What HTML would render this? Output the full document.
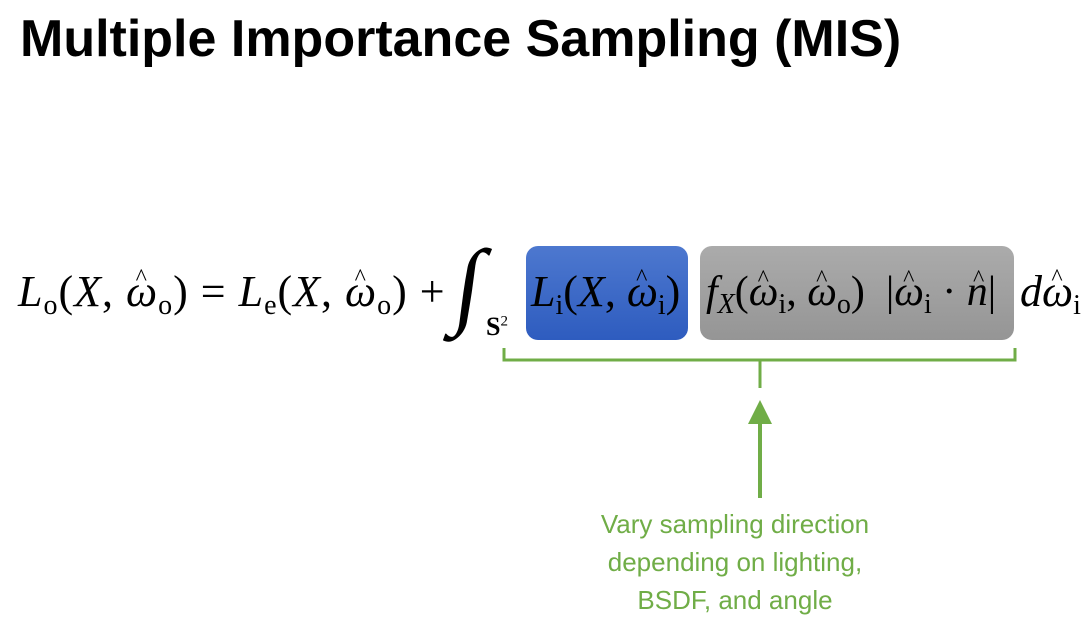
<!DOCTYPE html>
<html><head><meta charset="utf-8"><style>
body{margin:0;width:1081px;height:616px;background:#fff;position:relative;overflow:hidden;font-family:"Liberation Serif",serif}
.t{position:absolute;white-space:nowrap}
.m{font-size:44px;line-height:1;letter-spacing:1px}
i{font-style:italic}
sub{font-size:28px;vertical-align:-8px;font-style:normal}
.h{position:relative;display:inline-block;font-style:italic}
.h::after{content:"^";position:absolute;left:30%;top:-4px;font-style:normal;font-size:24px}
.box{position:absolute;border-radius:12px}
</style></head><body>
<div class="t" style="left:20px;top:9px;font-family:'Liberation Sans',sans-serif;font-weight:bold;font-size:52px;color:#000">Multiple Importance Sampling (MIS)</div>
<div class="box" style="left:526px;top:246px;width:162px;height:94px;background:linear-gradient(#4d78cf,#2e5cbf)"></div>
<div class="box" style="left:700px;top:246px;width:314px;height:94px;background:linear-gradient(#ababab,#959595)"></div>
<div class="t m" style="left:18px;top:270px"><i>L</i><sub>o</sub>(<i>X</i>, <span class="h">ω</span><sub>o</sub>) = <i>L</i><sub>e</sub>(<i>X</i>, <span class="h">ω</span><sub>o</sub>) +</div>
<div class="t" style="left:456px;top:228px;font-size:96px;font-style:italic;transform:skewX(-8deg)">∫</div>
<div class="t" style="left:486px;top:312px;font-size:26px;font-weight:bold">S<sup style="font-size:15px;font-weight:normal">2</sup></div>
<div class="t m" style="left:531px;top:270px;letter-spacing:0"><i>L</i><sub>i</sub>(<i>X</i>, <span class="h">ω</span><sub>i</sub>)</div>
<div class="t m" style="left:706px;top:271px;letter-spacing:0;font-size:42px"><i>f</i><sub><i>X</i></sub>(<span class="h">ω</span><sub>i</sub>, <span class="h">ω</span><sub>o</sub>) &nbsp;|<span class="h">ω</span><sub>i</sub> · <span class="h">n</span>|</div>
<div class="t m" style="left:1020px;top:270px;letter-spacing:0"><i>d</i><span class="h">ω</span><sub>i</sub></div>
<svg class="t" style="left:0;top:0" width="1081" height="616">
<path d="M504 348V360H1015V348M760 360V388" fill="none" stroke="#70ad47" stroke-width="3"/>
<path d="M760 498V420" stroke="#70ad47" stroke-width="4"/>
<path d="M748 424L760 400L772 424Z" fill="#70ad47"/>
</svg>
<div class="t" style="left:535px;top:505px;width:400px;text-align:center;font-family:'Liberation Sans',sans-serif;font-size:26px;line-height:38px;color:#70ad47">Vary sampling direction<br>depending on lighting,<br>BSDF, and angle</div>
</body></html>
